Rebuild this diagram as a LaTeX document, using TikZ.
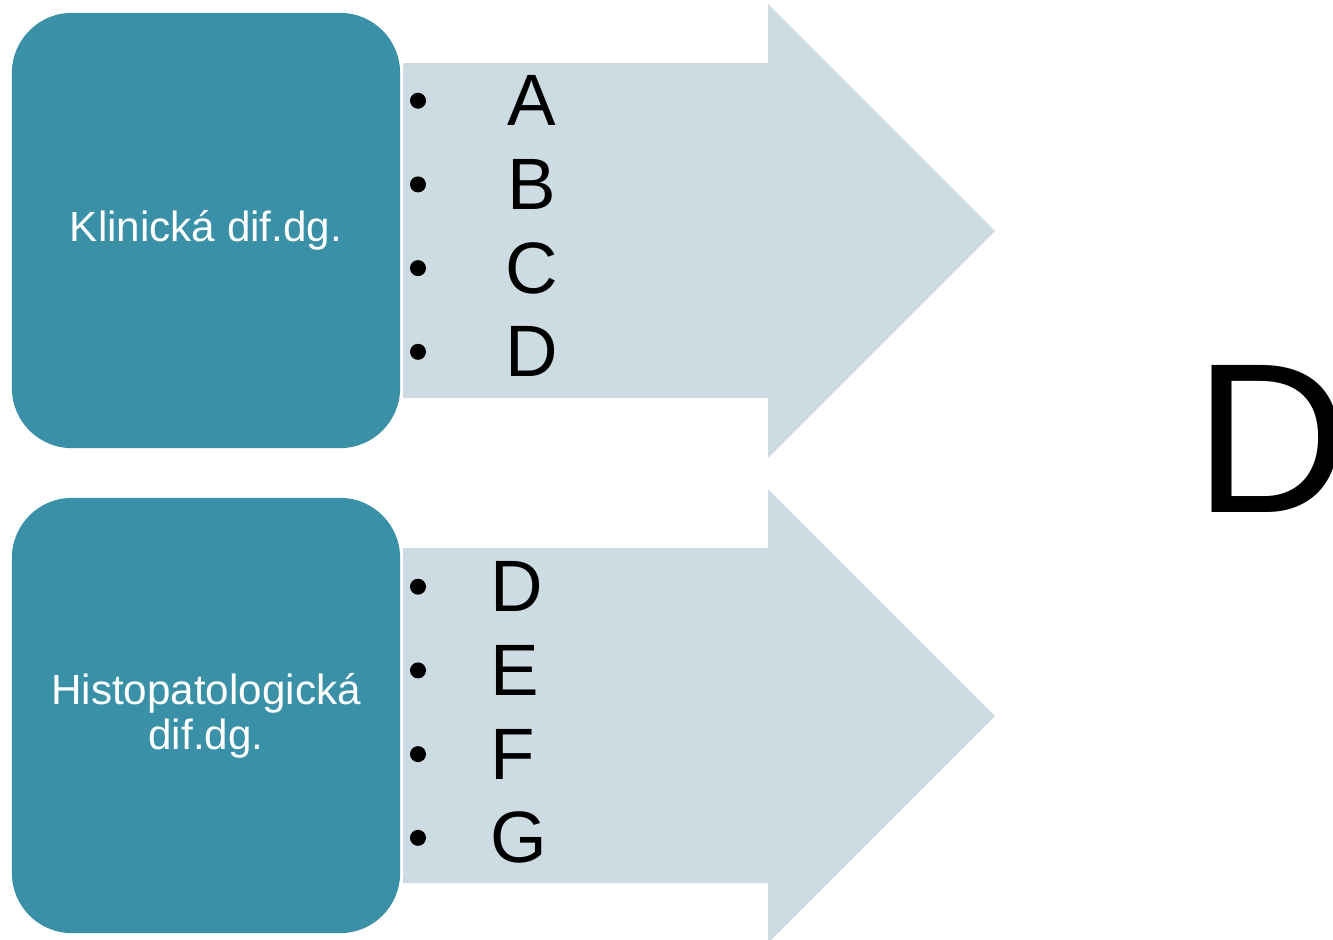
\documentclass[tikz,border=0pt]{standalone}
\usepackage{fontspec}
\setmainfont{Liberation Sans}
\definecolor{boxteal}{HTML}{3A90A6}
\definecolor{arrowgrey}{HTML}{CDDCE2}
\tikzset{
    dgbox/.style={fill=boxteal, rounded corners=0.6cm, minimum width=3.88cm, minimum height=4.35cm,
        inner sep=0pt, text=white, align=center, font=\fontsize{12}{12.8}\selectfont},
    item/.style={inner sep=0pt, font=\fontsize{20.7}{24}\selectfont},
}

\begin{document}
\begin{tikzpicture}[x=0.01cm,y=-0.01cm]
            \useasboundingbox (0,0) rectangle (1333,939);

            % light arrows behind the lists
            \foreach \y in {0,485}{
                \fill[arrowgrey] (403,63+\y) -- (768,63+\y) -- (768,4+\y) -- (995,231+\y)
                    -- (768,458+\y) -- (768,398+\y) -- (403,398+\y) -- cycle;
            }

            \node[dgbox] (klin) at (206,230.5) {Klinická dif.dg.};
            \node[dgbox] (histo) at (206,715.5) {\raisebox{-3pt}{}Histopatologická\\dif.dg.};

            \foreach \t [count=\i] in {A,B,C,D}{
                \fill (418,{17+83.7*\i}) circle (0.8mm);
                \node[item] (top\i) at (532,{17+83.7*\i}) {\t};
            }
            \foreach \t [count=\i] in {D,E,F,G}{
                \fill (418,{503+83.7*\i}) circle (0.8mm);
                \node[item, anchor=west] (bot\i) at (490,{503+83.7*\i}) {\t};
            }

            \node[inner sep=0pt, anchor=west, font=\fontsize{60.8}{70}\selectfont] (bigd) at (1194,438.5) {D};
\end{tikzpicture}
\end{document}
